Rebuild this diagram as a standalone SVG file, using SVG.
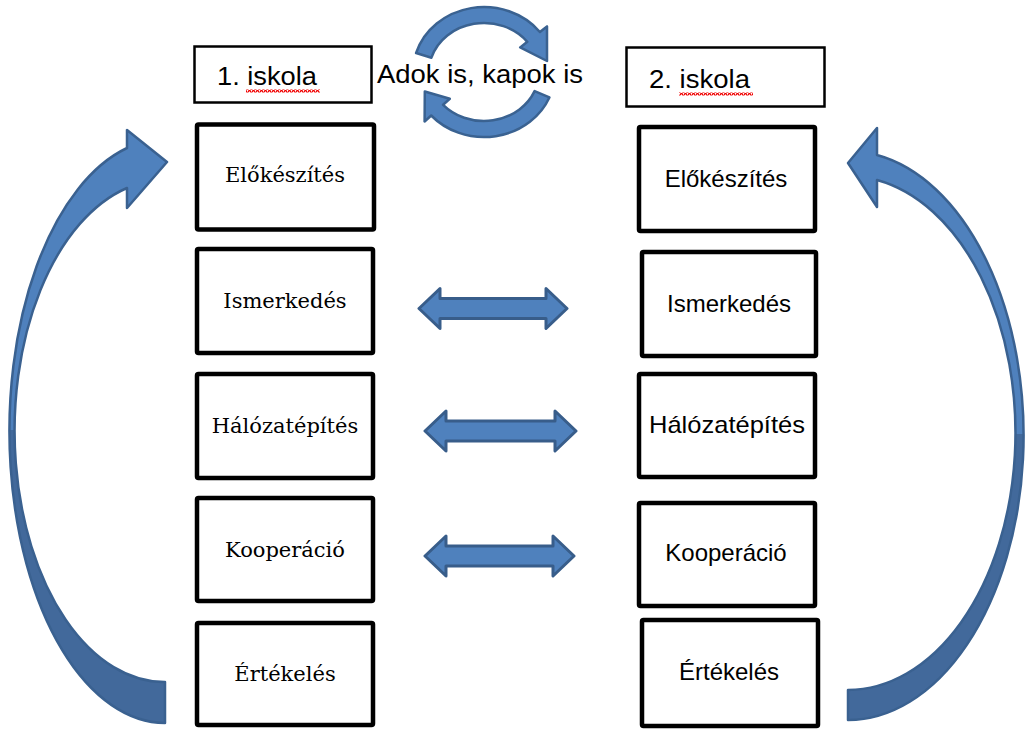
<svg xmlns="http://www.w3.org/2000/svg" width="1026" height="729" viewBox="0 0 1026 729">
<defs>
<style>
.hdr{fill:#fff;stroke:#000;stroke-width:2.5}
.box{fill:#fff;stroke:#000;stroke-width:4.5}
.tl{font-family:"DejaVu Serif","Liberation Serif",serif;font-size:21px;fill:#000;text-anchor:middle}
.tr{font-family:"Liberation Sans",Arial,sans-serif;font-size:24px;fill:#000;text-anchor:middle}
.th{font-family:"Liberation Sans",Arial,sans-serif;font-size:26px;fill:#000}
.blue{fill:#4f81bd;stroke:#3a6291;stroke-width:2.5;stroke-linejoin:round}
.dbl{fill:#4f81bd;stroke:#385d8a;stroke-width:3;stroke-linejoin:round}
</style>
<pattern id="wavy" width="4" height="3" patternUnits="userSpaceOnUse">
<path d="M0 2.5 L1 0.5 L2 0.5 L3 2.5 L4 2.5" fill="none" stroke="#f00000" stroke-width="1.3"/>
</pattern>
<linearGradient id="gl" gradientUnits="userSpaceOnUse" x1="0" y1="0" x2="0" y2="729">
<stop offset="0" stop-color="#4f81bd"/><stop offset="0.59" stop-color="#4f81bd"/><stop offset="0.59" stop-color="#42699b"/><stop offset="1" stop-color="#42699b"/>
</linearGradient>
<linearGradient id="gr" gradientUnits="userSpaceOnUse" x1="0" y1="0" x2="0" y2="729">
<stop offset="0" stop-color="#4f81bd"/><stop offset="0.595" stop-color="#4f81bd"/><stop offset="0.595" stop-color="#42699b"/><stop offset="1" stop-color="#42699b"/>
</linearGradient>
</defs>
<rect width="1026" height="729" fill="#fff"/>

<g id="connectors">
<path id="cycle-left" fill="url(#gl)" stroke="#3a6190" stroke-width="2.5" stroke-linejoin="round" d="M127 148 A156 292 0 0 0 165 723 L165 682 A150 251 0 0 1 127 188 L127 208 L167 162 L127 130 Z"/>
<path id="cycle-right" fill="url(#gr)" stroke="#3a6190" stroke-width="2.5" stroke-linejoin="round" d="M877 155 A176 284.5 0 0 1 848 720 L848 690 A168 257 0 0 0 877 180 L877 207 L848 163 L877 128 Z"/>
<polygon class="dbl" points="419,308.5 440,288.5 440,298.5 546,298.5 546,288.5 567,308.5 546,328.5 546,318.5 440,318.5 440,328.5"/>
<polygon class="dbl" points="425,431 446,411 446,421 555,421 555,411 576,431 555,451 555,441 446,441 446,451"/>
<polygon class="dbl" points="425,556 446,536 446,546 553,546 553,536 574,556 553,576 553,566 446,566 446,576"/>
<path class="blue" d="M416.1 53 A71 65 0 0 1 539.9 32 L547 26.4 L547 61 L520.2 47.4 L527.3 41.8 A55 49 0 0 0 431.4 57.7 Z"/>
<path class="blue" d="M549.4 97.4 A71 65 0 0 1 431.2 115.5 L424.6 121.5 L424.8 91.5 L449.8 98.8 L443.1 104.8 A55 49 0 0 0 534.6 91.1 Z"/>
</g>

<g id="label-adok">
<text class="th" x="377" y="83" textLength="206" lengthAdjust="spacingAndGlyphs">Adok is, kapok is</text>
</g>

<g id="school1">
<rect class="hdr" x="194.5" y="46.5" width="177" height="56"/>
<text class="th" x="217" y="85" textLength="100" lengthAdjust="spacingAndGlyphs">1. iskola</text>
<rect x="246" y="89.5" width="74" height="3" fill="url(#wavy)"/>
</g>
<g id="school2">
<rect class="hdr" x="626.5" y="47.5" width="198" height="59"/>
<text class="th" x="649" y="88" textLength="101" lengthAdjust="spacingAndGlyphs">2. iskola</text>
<rect x="679" y="92.5" width="74" height="3" fill="url(#wavy)"/>
</g>

<g id="l-elokeszites"><rect class="box" x="197" y="124.5" width="177" height="105" rx="1.5"/><text class="tl" x="285" y="182">Előkészítés</text></g>
<g id="l-ismerkedes"><rect class="box" x="197" y="249" width="176" height="104" rx="1.5"/><text class="tl" x="285" y="308">Ismerkedés</text></g>
<g id="l-halozatepites"><rect class="box" x="197" y="374" width="176" height="104" rx="1.5"/><text class="tl" x="285" y="433">Hálózatépítés</text></g>
<g id="l-kooperacio"><rect class="box" x="197" y="498" width="176" height="103" rx="1.5"/><text class="tl" x="285" y="557">Kooperáció</text></g>
<g id="l-ertekeles"><rect class="box" x="197" y="623" width="176" height="102" rx="1.5"/><text class="tl" x="285" y="681">Értékelés</text></g>

<g id="r-elokeszites"><rect class="box" x="639" y="127" width="176" height="104" rx="1.5"/><text class="tr" x="726" y="187">Előkészítés</text></g>
<g id="r-ismerkedes"><rect class="box" x="642" y="252" width="174" height="104" rx="1.5"/><text class="tr" x="729" y="312">Ismerkedés</text></g>
<g id="r-halozatepites"><rect class="box" x="639" y="374" width="176" height="103" rx="1.5"/><text class="tr" x="727" y="433" textLength="156" lengthAdjust="spacingAndGlyphs">Hálózatépítés</text></g>
<g id="r-kooperacio"><rect class="box" x="639" y="503" width="176" height="103" rx="1.5"/><text class="tr" x="726" y="561">Kooperáció</text></g>
<g id="r-ertekeles"><rect class="box" x="642" y="620" width="176" height="106" rx="1.5"/><text class="tr" x="729" y="680">Értékelés</text></g>
</svg>
